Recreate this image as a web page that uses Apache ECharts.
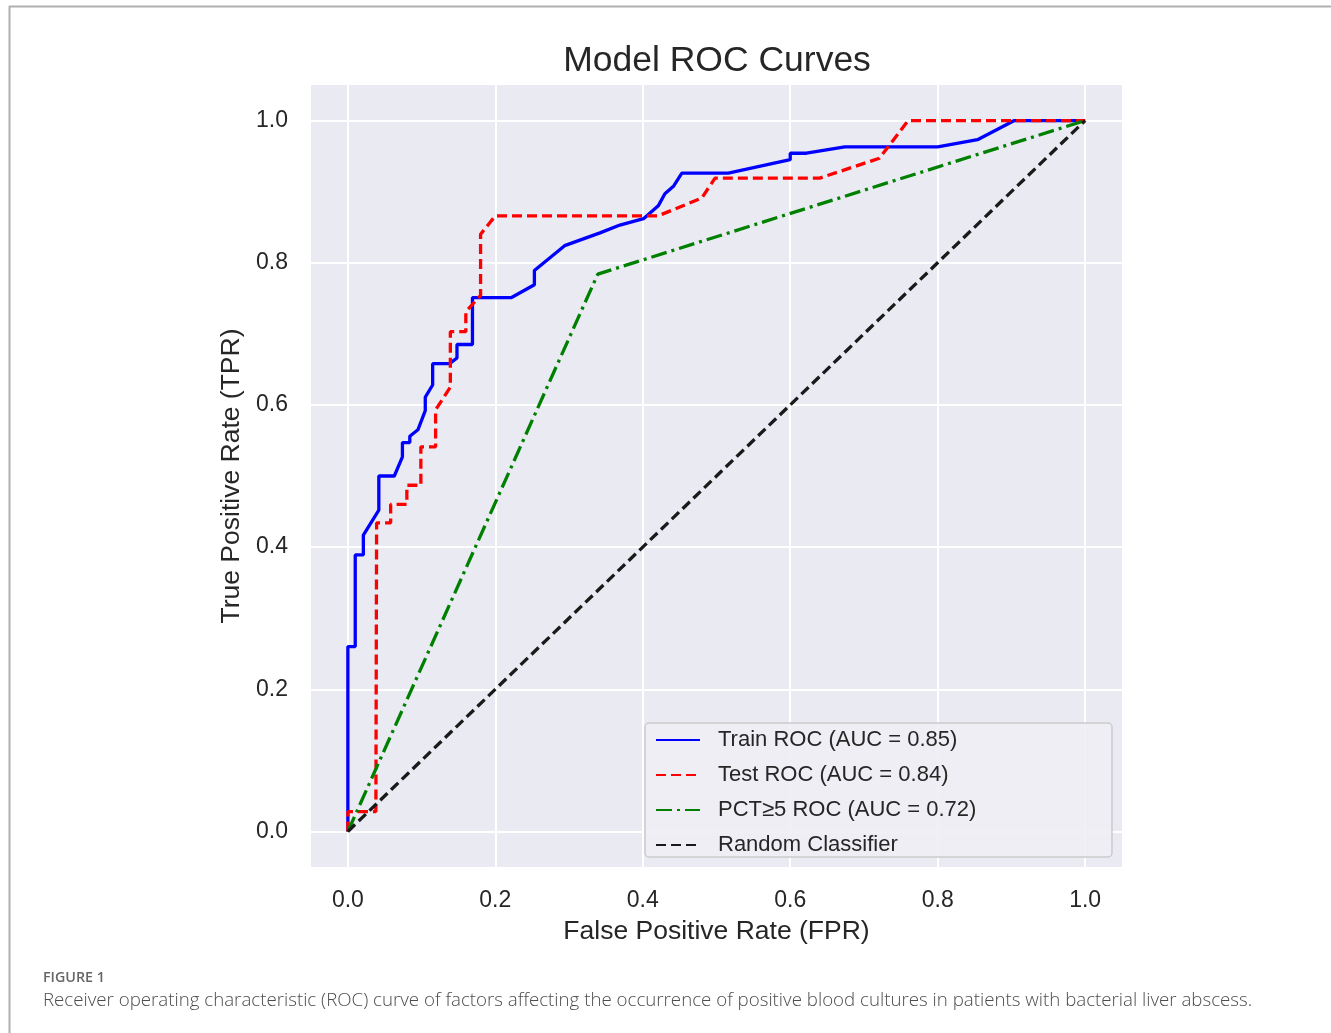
<!DOCTYPE html>
<html>
<head>
<meta charset="utf-8">
<script src="https://cdn.jsdelivr.net/npm/echarts@6/dist/echarts.min.js"></script>
<style>
html,body{margin:0;padding:0;background:#fff;}
#chart{width:1331px;height:1033px;}
</style>
</head>
<body>
<div id="chart"></div>
<script>
// ---- data ----
var tickValues = [0, 0.2, 0.4, 0.6, 0.8, 1.0];
var seriesNames = ['Train ROC (AUC = 0.85)', 'Test ROC (AUC = 0.84)', 'PCT≥5 ROC (AUC = 0.72)', 'Random Classifier'];

var trainFpr = [0, 0, 0.010, 0.010, 0.021, 0.021, 0.042, 0.042, 0.063, 0.074, 0.074, 0.084, 0.084, 0.095, 0.105, 0.105, 0.115, 0.115, 0.138, 0.148, 0.148, 0.169, 0.169, 0.222, 0.253, 0.253, 0.294, 0.342, 0.369, 0.401, 0.421, 0.430, 0.442, 0.453, 0.516, 0.600, 0.600, 0.622, 0.674, 0.800, 0.854, 0.904, 1.0];
var trainTpr = [0, 0.260, 0.260, 0.389, 0.389, 0.417, 0.452, 0.500, 0.500, 0.527, 0.547, 0.547, 0.556, 0.565, 0.592, 0.611, 0.628, 0.658, 0.658, 0.666, 0.685, 0.685, 0.751, 0.751, 0.769, 0.789, 0.824, 0.842, 0.853, 0.862, 0.880, 0.897, 0.908, 0.926, 0.926, 0.945, 0.954, 0.954, 0.963, 0.963, 0.973, 1.0, 1.0];

var testFpr = [0, 0, 0.038, 0.039, 0.058, 0.058, 0.080, 0.080, 0.099, 0.099, 0.119, 0.119, 0.139, 0.139, 0.160, 0.160, 0.180, 0.180, 0.200, 0.421, 0.480, 0.498, 0.640, 0.721, 0.760, 1.0];
var testTpr = [0, 0.028, 0.028, 0.434, 0.434, 0.460, 0.460, 0.487, 0.487, 0.541, 0.541, 0.593, 0.625, 0.703, 0.703, 0.731, 0.754, 0.840, 0.866, 0.866, 0.891, 0.919, 0.919, 0.947, 1.0, 1.0];

var pctFpr = [0, 0.339, 1.0];
var pctTpr = [0, 0.784, 1.0];

var randomFpr = [0, 1];
var randomTpr = [0, 1];

function pairs(xs, ys) { return xs.map(function (x, i) { return [x, ys[i]]; }); }

var textColor = '#262626';
var chart = echarts.init(document.getElementById('chart'), null, {renderer: 'canvas'});

function axis(name, isX) {
  return {
    type: 'value',
    min: -0.05,
    max: 1.05,
    name: name,
    nameLocation: 'middle',
    nameGap: isX ? 51 : 64,
    nameTextStyle: {fontFamily: 'Liberation Sans, Arial, sans-serif', fontSize: 26.5, color: textColor},
    axisLine: {show: false},
    axisTick: {show: false, customValues: tickValues},
    axisLabel: {
      customValues: tickValues,
      fontFamily: 'Liberation Sans, Arial, sans-serif',
      fontSize: 23,
      color: textColor,
      margin: isX ? 22 : 23,
      formatter: function (v) { return v.toFixed(1); }
    },
    splitLine: {show: true, lineStyle: {color: '#ffffff', width: 2}}
  };
}

function lineSeries(name, data, color, type, width) {
  return {
    name: name,
    type: 'line',
    data: data,
    symbol: 'none',
    showSymbol: false,
    smooth: false,
    animation: false,
    lineStyle: {color: color, width: width, type: type},
    itemStyle: {color: color},
    emphasis: {disabled: true}
  };
}

chart.setOption({
  animation: false,
  backgroundColor: '#ffffff',
  title: {
    text: 'Model ROC Curves',
    left: 712,
    textAlign: 'center',
    top: 38,
    textStyle: {fontFamily: 'Liberation Sans, Arial, sans-serif', fontSize: 35.5, fontWeight: 'normal', color: textColor}
  },
  grid: {left: 311, right: 209, top: 85, bottom: 166, show: true, backgroundColor: '#EAEAF2', borderWidth: 0},
  xAxis: axis('False Positive Rate (FPR)', true),
  yAxis: axis('True Positive Rate (TPR)', false),
  legend: {
    orient: 'vertical',
    left: 645,
    top: 723,
    padding: [6, 10, 1, 10],
    itemGap: 13,
    itemWidth: 44,
    itemHeight: 14,
    itemStyle: {opacity: 0},
    backgroundColor: 'rgba(238,238,244,0.9)',
    borderColor: '#cccccc',
    borderWidth: 1.5,
    borderRadius: 4,
    selectedMode: false,
    textStyle: {
      fontFamily: 'Liberation Sans, Arial, sans-serif',
      fontSize: 22,
      lineHeight: 22,
      color: textColor,
      width: 384,
      padding: [0, 0, 0, 13]
    },
    data: seriesNames
  },
  series: [
    lineSeries(seriesNames[0], pairs(trainFpr, trainTpr), '#0000ff', 'solid', 3.3),
    lineSeries(seriesNames[1], pairs(testFpr, testTpr), '#ff0000', [10, 5], 3.3),
    lineSeries(seriesNames[2], pairs(pctFpr, pctTpr), '#008000', [16, 5, 3, 5], 3.3),
    lineSeries(seriesNames[3], pairs(randomFpr, randomTpr), '#1a1a1a', [10, 5], 3.3)
  ],
  graphic: [
    {type: 'line', shape: {x1: 9, y1: 6.5, x2: 1331, y2: 6.5}, style: {stroke: '#b0b0b0', lineWidth: 2}, silent: true},
    {type: 'line', shape: {x1: 9.5, y1: 6, x2: 9.5, y2: 1033}, style: {stroke: '#b0b0b0', lineWidth: 2}, silent: true},
    {type: 'text', left: 43, top: 971, style: {text: 'FIGURE 1', font: '600 14.3px "Open Sans", sans-serif', fill: '#666666'}, silent: true},
    {type: 'text', left: 43, top: 991, style: {text: 'Receiver operating characteristic (ROC) curve of factors affecting the occurrence of positive blood cultures in patients with bacterial liver abscess.', font: '300 18.7px "Open Sans", sans-serif', fill: '#4d4d4d'}, silent: true}
  ]
});
</script>
</body>
</html>
